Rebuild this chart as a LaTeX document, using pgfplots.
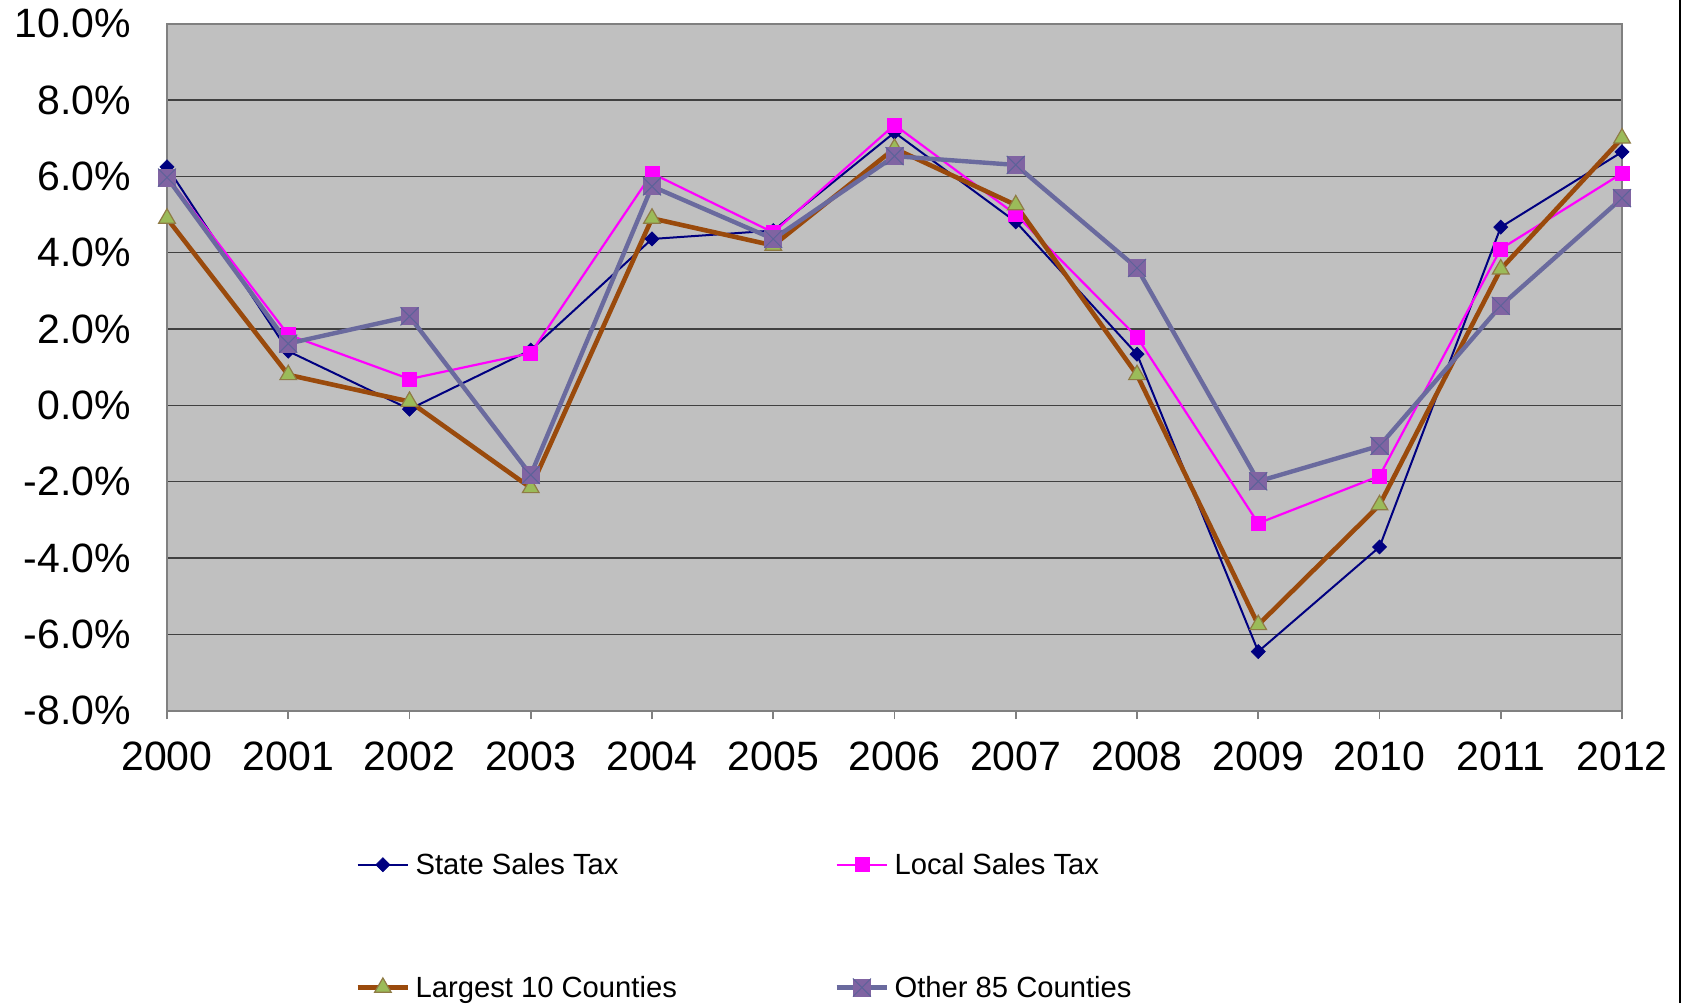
\documentclass[border=0pt]{standalone}
\usepackage{pgfplots}
\pgfplotsset{compat=1.18}
\usepackage{fontspec}
\setmainfont{Liberation Sans}
\definecolor{navyc}{HTML}{000080}
\definecolor{magc}{HTML}{FF00FF}
\definecolor{brownc}{HTML}{9A4A0C}
\definecolor{trifill}{HTML}{9BBB59}
\definecolor{triedge}{HTML}{8F7B45}
\definecolor{otherc}{HTML}{6A6A9E}
\definecolor{sqfill}{HTML}{8064A2}
\definecolor{sqxcol}{HTML}{5C6299}
\definecolor{plotbg}{HTML}{C0C0C0}
\definecolor{axgray}{HTML}{808080}
\pgfdeclareplotmark{sqx}{%
 \pgfpathrectangle{\pgfqpoint{-\pgfplotmarksize}{-\pgfplotmarksize}}{\pgfqpoint{2\pgfplotmarksize}{2\pgfplotmarksize}}%
 \pgfusepathqfill
 \pgfpathmoveto{\pgfqpoint{-\pgfplotmarksize}{-\pgfplotmarksize}}\pgfpathlineto{\pgfqpoint{\pgfplotmarksize}{\pgfplotmarksize}}%
 \pgfpathmoveto{\pgfqpoint{-\pgfplotmarksize}{\pgfplotmarksize}}\pgfpathlineto{\pgfqpoint{\pgfplotmarksize}{-\pgfplotmarksize}}%
 \pgfusepathqstroke}
\begin{document}
\begin{tikzpicture}
\useasboundingbox (-83.5pt,-146.15pt) rectangle (759pt,355.35pt);
\begin{axis}[
 at={(0,0)}, anchor=south west,
 scale only axis, width=727.5pt, height=343.5pt,
 xmin=2000, xmax=2012, ymin=-8, ymax=10,
 xtick={2000,2001,...,2012},
 xticklabels={2000,2001,2002,2003,2004,2005,2006,2007,2008,2009,2010,2011,2012},
 ytick={-8,-6,-4,-2,0,2,4,6,8,10},
 yticklabels={-8.0\%,-6.0\%,-4.0\%,-2.0\%,0.0\%,2.0\%,4.0\%,6.0\%,8.0\%,10.0\%},
 axis background/.style={fill=plotbg},
 axis line style={draw=axgray, line width=1pt},
 ymajorgrids, grid style={draw=black!75, line width=0.6pt},
 tick align=outside, xtick pos=left, ytick pos=left,
 major tick length=4.3pt,
 xtick style={draw=axgray, line width=0.8pt},
 ytick style={draw=none},
 tick label style={font=\fontsize{20.5}{24}\selectfont},
 xticklabel style={inner sep=0pt, anchor=north, yshift=-10.9pt},
 yticklabel style={inner sep=0pt, anchor=east, xshift=-13.6pt},
 legend columns=2,
 legend cell align=left,
 legend style={draw=none, fill=none, at={(0,0)}, anchor=north west,
   xshift=94.2pt, yshift=-70pt, inner sep=0pt, outer sep=0pt,
   font=\fontsize{14.6}{17}\selectfont,
   nodes={inner sep=0pt, text height=12pt, text depth=2pt},
   /tikz/every even column/.append style={column sep=78.8pt},
   /tikz/every odd column/.append style={column sep=2.6pt},
   row sep=47.4pt},
 legend image code/.code={\draw[mark repeat=2,mark phase=2,#1] plot coordinates {(0pt,0pt) (12.6pt,0pt) (25.2pt,0pt)};},
]
\addplot[navyc, line width=1pt, mark=square*, mark size=2.5pt, mark options={rotate=45, fill=navyc, draw=navyc, line width=0.3pt}] coordinates {
(2000,6.25)(2001,1.42)(2002,-0.1)(2003,1.45)(2004,4.36)(2005,4.58)(2006,7.15)(2007,4.81)(2008,1.34)(2009,-6.45)(2010,-3.71)(2011,4.67)(2012,6.64)};
\addlegendentry{State Sales Tax}
\addplot[magc, line width=1.1pt, mark=square*, mark size=3.5pt, mark options={fill=magc, draw=magc, line width=0.3pt}] coordinates {
(2000,6.0)(2001,1.85)(2002,0.69)(2003,1.37)(2004,6.08)(2005,4.53)(2006,7.35)(2007,5.0)(2008,1.79)(2009,-3.09)(2010,-1.85)(2011,4.1)(2012,6.08)};
\addlegendentry{Local Sales Tax}
\addplot[brownc, line width=2.3pt, mark=triangle*, mark size=4.8pt, mark options={fill=trifill, draw=triedge, line width=0.6pt}] coordinates {
(2000,4.9)(2001,0.8)(2002,0.1)(2003,-2.16)(2004,4.9)(2005,4.19)(2006,6.73)(2007,5.25)(2008,0.8)(2009,-5.75)(2010,-2.61)(2011,3.57)(2012,7.0)};
\addlegendentry{Largest 10 Counties}
\addplot[otherc, line width=2.2pt, mark=sqx, mark size=4.5pt, mark options={fill=sqfill, draw=sqxcol, line width=0.5pt}] coordinates {
(2000,5.97)(2001,1.62)(2002,2.33)(2003,-1.82)(2004,5.74)(2005,4.36)(2006,6.53)(2007,6.3)(2008,3.6)(2009,-1.99)(2010,-1.06)(2011,2.61)(2012,5.43)};
\addlegendentry{Other 85 Counties}
\end{axis}
\draw[black, line width=1pt] (756.5pt,-146.15pt) -- (756.5pt,355.35pt);
\end{tikzpicture}
\end{document}
